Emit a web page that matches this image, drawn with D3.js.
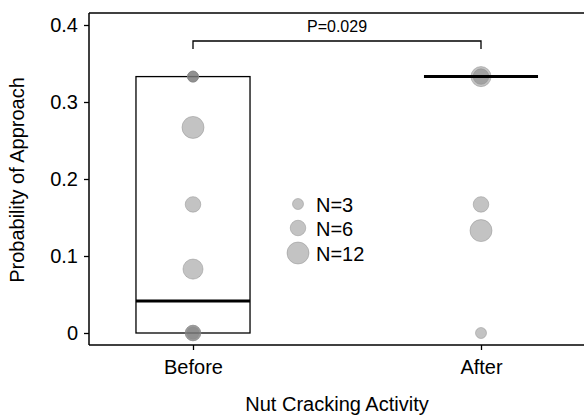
<!DOCTYPE html>
<html><head><meta charset="utf-8">
<script src="https://cdn.jsdelivr.net/npm/d3@7/dist/d3.min.js"></script>
<style>body{margin:0;background:#fff}text{font-family:"Liberation Sans",Arial,sans-serif;fill:#000}</style>
</head><body><svg id="c" width="584" height="418"></svg>
<script>
const categories = ["Before", "After"];
const yTicks = [0, 0.1, 0.2, 0.3, 0.4];
const yTickLabels = ["0", "0.1", "0.2", "0.3", "0.4"];
// points: category index, probability, N
const ptCat = [0, 0, 0, 0, 0, 0, 0, 0, 0, 1, 1, 1, 1, 1];
const ptVal = [0.333, 0.333, 0.333, 0.267, 0.167, 0.083, 0, 0, 0, 0.333, 0.333, 0.167, 0.133, 0];
const ptN   = [3, 3, 3, 12, 6, 10, 6, 6, 4, 10, 6, 6, 12, 3];
const boxLow = [0, 0.333];
const boxHigh = [0.333, 0.333];
const medians = [0.0417, 0.333];
const legendN = [3, 6, 12];
const legendLabels = ["N=3", "N=6", "N=12"];
const pLabel = "P=0.029";

(function () {
const svg = d3.select("#c");
const x = d3.scaleLinear().domain([1, 2]).range([193, 481]);
const y = d3.scaleLinear().domain([0, 0.4]).range([333, 25]);
const r = d3.scaleSqrt().domain([0, 12]).range([0, 11]);
const halfW = 0.198;
const pLeft = 89, pTop = 13, pBottom = 345, pRight = 584;
const FF = "Liberation Sans, Arial, sans-serif";

// boxes
categories.forEach((c, i) => {
  const cx = i + 1;
  if (boxHigh[i] > boxLow[i]) {
    svg.append("rect").attr("x", x(cx - halfW)).attr("y", y(boxHigh[i]))
      .attr("width", x(cx + halfW) - x(cx - halfW)).attr("height", y(boxLow[i]) - y(boxHigh[i]))
      .attr("fill", "none").attr("stroke", "#000").attr("stroke-width", 1.3);
  }
});
// points
svg.append("g").selectAll("circle").data(ptVal.map((v, i) => ({c: ptCat[i] + 1, v, n: ptN[i]})))
  .join("circle").attr("cx", d => x(d.c)).attr("cy", d => y(d.v)).attr("r", d => r(d.n))
  .attr("fill", "#7a7a7a").attr("fill-opacity", 0.45)
  .attr("stroke", "#8a8a8a").attr("stroke-opacity", 0.45).attr("stroke-width", 1);
// medians
categories.forEach((c, i) => {
  const cx = i + 1;
  svg.append("line").attr("x1", x(cx - halfW)).attr("x2", x(cx + halfW))
    .attr("y1", y(medians[i])).attr("y2", y(medians[i]))
    .attr("stroke", "#000").attr("stroke-width", 3);
});

// frame lines
svg.append("line").attr("x1", pLeft).attr("x2", pRight).attr("y1", pTop).attr("y2", pTop).attr("stroke", "#000").attr("stroke-width", 1.5);
// y axis
const ya = svg.append("g").attr("transform", `translate(${pLeft},0)`)
  .call(d3.axisLeft(y).tickValues(yTicks).tickFormat((d, i) => yTickLabels[i]).tickSize(5).tickSizeOuter(0).tickPadding(6));
ya.select(".domain").remove();
ya.attr("font-size", 20).attr("font-family", FF);
ya.selectAll(".tick line").attr("stroke-width", 1.3);
svg.append("line").attr("x1", pLeft).attr("x2", pLeft).attr("y1", pTop).attr("y2", pBottom).attr("stroke", "#000").attr("stroke-width", 1.5);
// x axis
const xa = svg.append("g").attr("transform", `translate(0,${pBottom})`)
  .call(d3.axisBottom(x).tickValues([1, 2]).tickFormat((d, i) => categories[i]).tickSize(5).tickPadding(10));
xa.select(".domain").remove();
xa.attr("font-size", 20).attr("font-family", FF);
xa.selectAll(".tick line").attr("stroke-width", 1.3);
svg.append("line").attr("x1", pLeft).attr("x2", pRight).attr("y1", pBottom).attr("y2", pBottom).attr("stroke", "#000").attr("stroke-width", 1.5);

// titles
svg.append("text").attr("x", 337).attr("y", 411).attr("text-anchor", "middle").attr("font-size", 20).text("Nut Cracking Activity");
svg.append("text").attr("transform", "translate(24,180) rotate(-90)").attr("text-anchor", "middle").attr("font-size", 20).text("Probability of Approach");

// significance bracket
svg.append("path").attr("d", `M${x(1)},49 V41 H${x(2)} V49`).attr("fill", "none").attr("stroke", "#000").attr("stroke-width", 1.3);
svg.append("text").attr("x", (x(1) + x(2)) / 2).attr("y", 32).attr("text-anchor", "middle").attr("font-size", 16).text(pLabel);

// legend
const ly = [204, 228, 253];
legendN.forEach((n, i) => {
  svg.append("circle").attr("cx", 298).attr("cy", ly[i]).attr("r", r(n))
    .attr("fill", "#7a7a7a").attr("fill-opacity", 0.45).attr("stroke", "#8a8a8a").attr("stroke-opacity", 0.45);
  svg.append("text").attr("x", 316).attr("y", ly[i] + 8).attr("font-size", 20).text(legendLabels[i]);
});
})();
</script></body></html>
